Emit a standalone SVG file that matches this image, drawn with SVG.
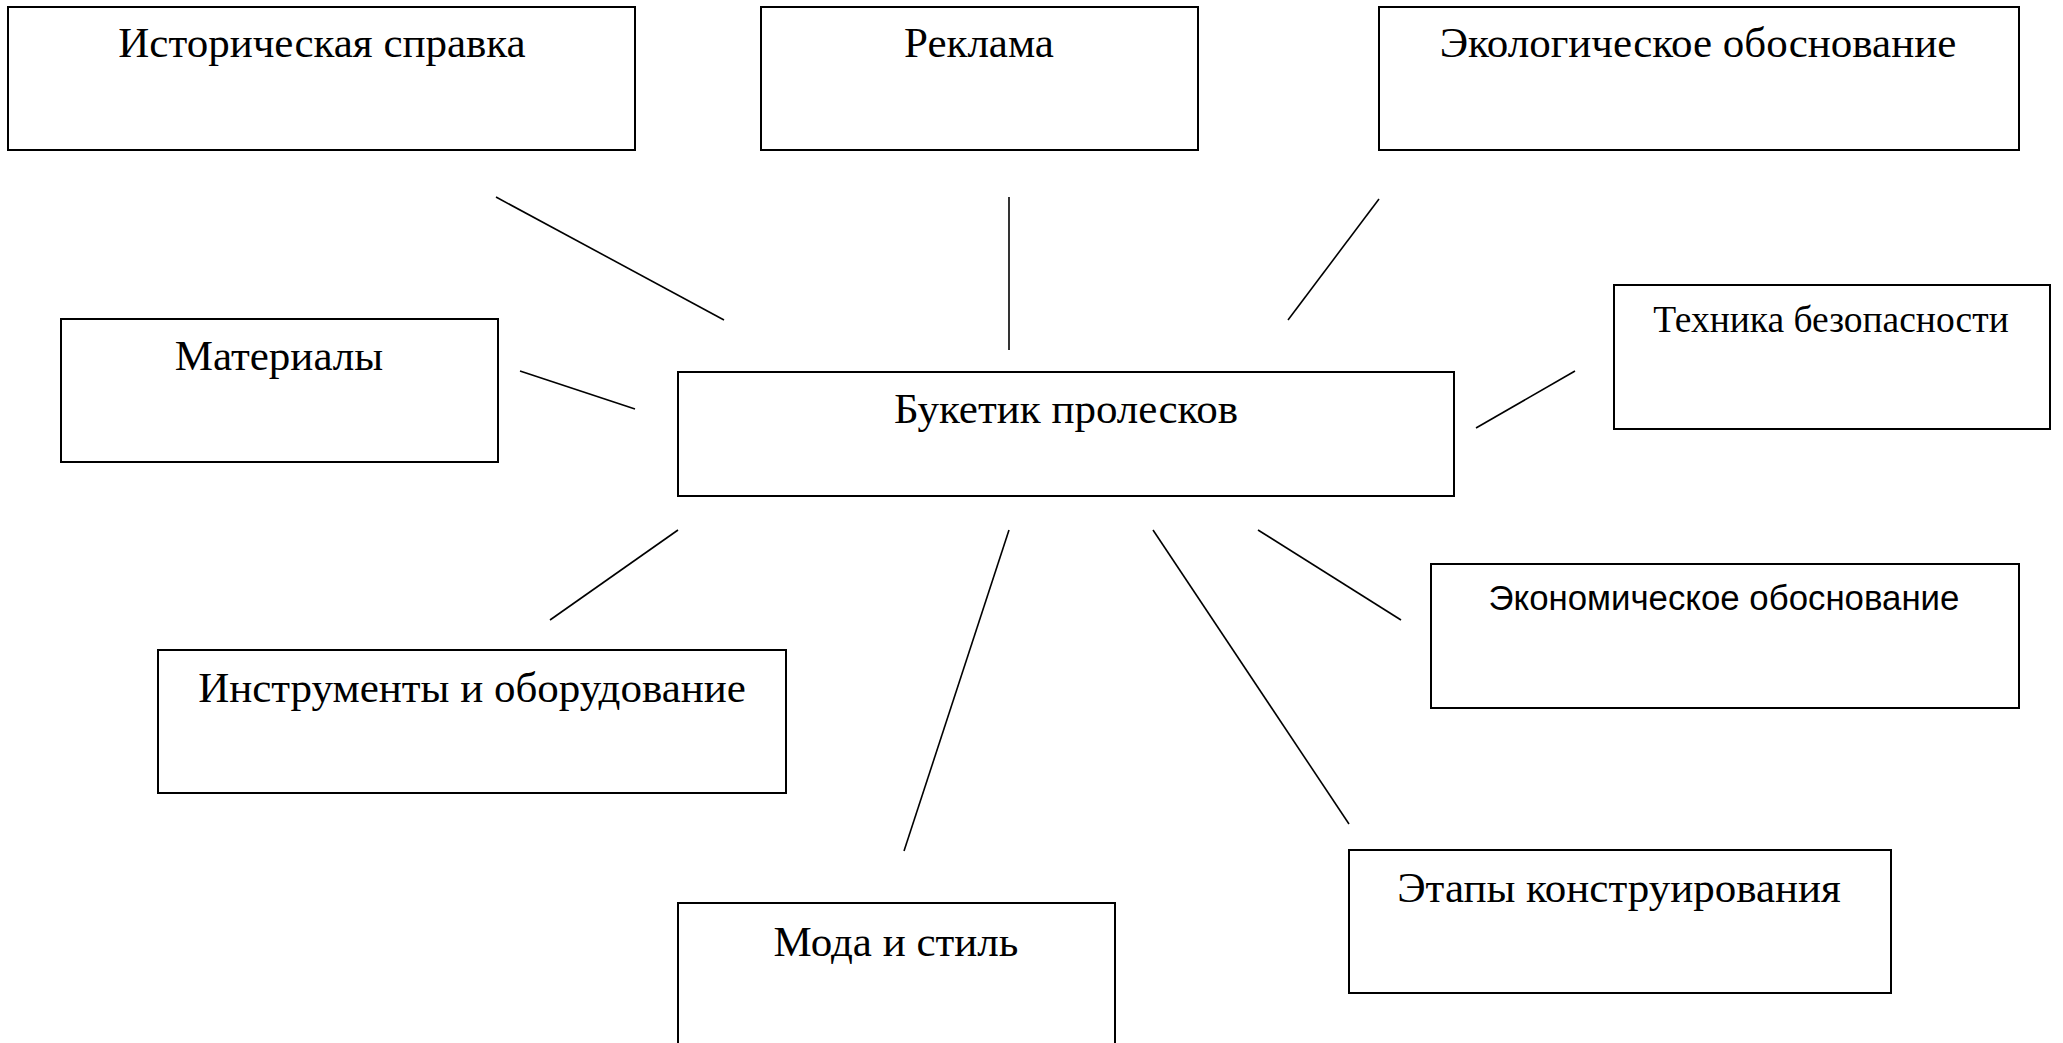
<svg xmlns="http://www.w3.org/2000/svg" width="2063" height="1043" viewBox="0 0 2063 1043">
<style>
  .box { fill: #fff; stroke: #000; stroke-width: 2; }
  .t { font-family: "Liberation Serif", "Times New Roman", serif; font-size: 43px; fill: #000; text-anchor: middle; }
  .ts { font-family: "Liberation Serif", "Times New Roman", serif; font-size: 37.5px; fill: #000; text-anchor: middle; }
  .tsans { font-family: "Liberation Sans", Arial, sans-serif; font-size: 34.8px; fill: #000; text-anchor: middle; }
  .conn line { stroke: #000; stroke-width: 1.6; }
</style>
<rect width="2063" height="1043" fill="#fff"/>
<g id="connectors" class="conn">
  <line x1="496" y1="197" x2="724" y2="320"/>
  <line x1="1009" y1="197" x2="1009" y2="350"/>
  <line x1="1379" y1="199" x2="1288" y2="320"/>
  <line x1="520" y1="371" x2="635" y2="409"/>
  <line x1="1575" y1="371" x2="1476" y2="428"/>
  <line x1="678" y1="530" x2="550" y2="620"/>
  <line x1="1009" y1="530" x2="904" y2="851"/>
  <line x1="1153" y1="530" x2="1349" y2="824"/>
  <line x1="1258" y1="530" x2="1401" y2="620"/>
</g>
<g id="node-history">
  <rect class="box" x="8" y="7" width="627" height="143"/>
  <text class="t" x="322" y="57">Историческая справка</text>
</g>
<g id="node-advert">
  <rect class="box" x="761" y="7" width="437" height="143"/>
  <text class="t" x="979" y="57">Реклама</text>
</g>
<g id="node-ecology">
  <rect class="box" x="1379" y="7" width="640" height="143"/>
  <text class="t" x="1698" y="57">Экологическое обоснование</text>
</g>
<g id="node-safety">
  <rect class="box" x="1614" y="285" width="436" height="144"/>
  <text class="ts" x="1831" y="332">Техника безопасности</text>
</g>
<g id="node-materials">
  <rect class="box" x="61" y="319" width="437" height="143"/>
  <text class="t" x="279" y="370">Материалы</text>
</g>
<g id="node-center">
  <rect class="box" x="678" y="372" width="776" height="124"/>
  <text class="t" x="1066" y="423">Букетик пролесков</text>
</g>
<g id="node-tools">
  <rect class="box" x="158" y="650" width="628" height="143"/>
  <text class="t" x="472" y="702">Инструменты и оборудование</text>
</g>
<g id="node-economy">
  <rect class="box" x="1431" y="564" width="588" height="144"/>
  <text class="tsans" x="1724" y="610">Экономическое обоснование</text>
</g>
<g id="node-fashion">
  <rect class="box" x="678" y="903" width="437" height="150"/>
  <text class="t" x="896" y="956">Мода и стиль</text>
</g>
<g id="node-stages">
  <rect class="box" x="1349" y="850" width="542" height="143"/>
  <text class="t" x="1619" y="902">Этапы конструирования</text>
</g>
</svg>
